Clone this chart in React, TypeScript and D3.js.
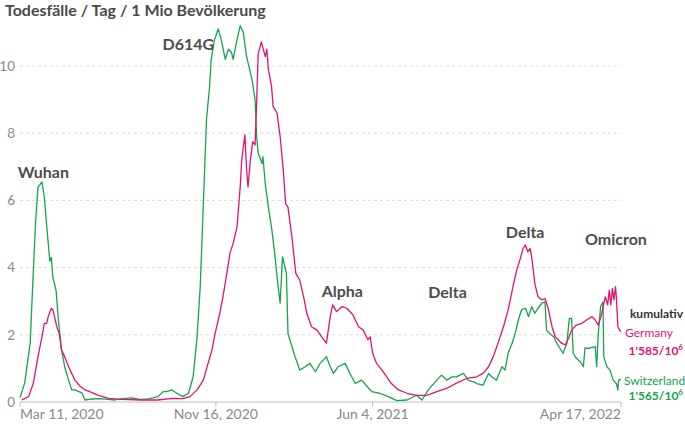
import React from "react";
import * as d3 from "d3";

const TITLE = "Todesfälle / Tag / 1 Mio Bevölkerung";
const START = "2020-03-11";
const END = "2022-04-17";
const xTickDates = ["2020-03-11", "2020-11-16", "2021-06-04", "2022-04-17"];
const yTicks = [0, 2, 4, 6, 8, 10];

// days since START
const chDays = [0, 6, 13, 17, 20, 23, 25, 28, 31, 35, 38, 40, 42, 46, 49, 53, 57, 62, 66, 70, 79, 83, 92, 102, 112, 121, 131, 143, 153, 163, 170, 176, 183, 187, 194, 200, 208, 215, 221, 226, 230, 234, 238, 242, 244, 248, 253, 257, 262, 266, 270, 272, 276, 281, 285, 289, 294, 296, 300, 302, 304, 309, 310, 313, 317, 321, 325, 329, 332, 335, 338, 340, 342, 347, 351, 357, 364, 370, 377, 383, 391, 396, 400, 406, 415, 421, 428, 436, 443, 449, 459, 470, 481, 494, 506, 513, 521, 532, 538, 545, 551, 557, 566, 572, 579, 583, 591, 598, 602, 608, 615, 619, 623, 628, 632, 636, 640, 645, 649, 653, 657, 661, 666, 670, 672, 676, 681, 685, 689, 693, 698, 701, 704, 706, 710, 715, 719, 721, 727, 734, 736, 738, 741, 744, 745, 749, 753, 757, 761, 763, 764, 767];
const chValues = [0.13, 0.57, 1.75, 3.9, 5.4, 6.4, 6.45, 6.55, 6.1, 5.0, 4.2, 4.3, 3.7, 3.33, 2.44, 1.55, 1.05, 0.65, 0.36, 0.36, 0.27, 0.06, 0.09, 0.1, 0.08, 0.06, 0.1, 0.12, 0.08, 0.09, 0.12, 0.16, 0.31, 0.31, 0.36, 0.26, 0.16, 0.26, 0.75, 1.94, 3.43, 5.9, 8.4, 9.4, 10.2, 10.77, 11.1, 10.77, 10.2, 10.5, 10.4, 10.2, 10.67, 11.2, 11.0, 10.3, 9.8, 9.6, 9.0, 7.9, 7.4, 7.1, 7.3, 6.5, 5.8, 5.2, 4.43, 3.53, 2.94, 4.32, 4.03, 3.83, 2.04, 1.65, 1.35, 0.95, 1.05, 1.15, 0.9, 1.15, 1.35, 1.05, 0.85, 1.05, 1.15, 0.85, 0.55, 0.65, 0.46, 0.31, 0.26, 0.16, 0.04, 0.06, 0.2, 0.06, 0.36, 0.65, 0.8, 0.65, 0.75, 0.75, 0.85, 0.65, 0.6, 0.55, 0.5, 0.85, 0.75, 0.65, 1.05, 0.95, 1.45, 1.75, 2.04, 2.44, 2.74, 2.79, 2.54, 2.84, 2.64, 2.79, 2.94, 2.98, 2.14, 2.04, 1.94, 1.75, 1.6, 1.45, 1.75, 2.49, 2.49, 1.45, 1.3, 1.2, 1.05, 1.6, 1.6, 1.65, 1.05, 2.04, 2.84, 2.98, 1.35, 1.05, 0.95, 0.65, 0.55, 0.36, 0.65, 0.67];

const deDays = [2, 11, 17, 23, 28, 31, 34, 36, 40, 42, 45, 47, 50, 53, 57, 62, 66, 70, 77, 83, 89, 100, 113, 130, 155, 176, 194, 208, 217, 226, 234, 240, 245, 249, 255, 259, 264, 268, 272, 277, 281, 283, 285, 287, 289, 291, 294, 297, 300, 302, 304, 308, 313, 315, 317, 321, 323, 328, 332, 336, 339, 342, 347, 352, 357, 362, 366, 372, 379, 385, 391, 396, 399, 404, 411, 417, 425, 432, 438, 444, 447, 450, 455, 462, 468, 474, 483, 494, 506, 519, 532, 545, 557, 570, 583, 591, 598, 604, 610, 617, 623, 630, 634, 638, 642, 645, 648, 651, 653, 657, 661, 666, 670, 674, 679, 683, 687, 691, 696, 700, 704, 710, 717, 723, 730, 734, 738, 742, 747, 750, 752, 754, 756, 758, 760, 761, 763, 765, 767];
const deValues = [0.06, 0.16, 0.56, 1.35, 1.94, 2.34, 2.34, 2.54, 2.79, 2.74, 2.44, 2.24, 2.04, 1.55, 1.35, 1.05, 0.85, 0.65, 0.46, 0.36, 0.31, 0.2, 0.11, 0.08, 0.06, 0.06, 0.11, 0.1, 0.16, 0.36, 0.65, 1.15, 1.55, 2.04, 2.64, 3.13, 3.83, 4.43, 4.72, 5.22, 6.4, 7.2, 7.6, 7.95, 7.0, 6.4, 7.2, 7.75, 7.65, 8.9, 10.37, 10.72, 10.28, 10.5, 9.9, 9.4, 8.8, 8.6, 7.9, 6.9, 5.9, 5.8, 4.92, 3.83, 3.63, 3.13, 2.64, 2.24, 2.14, 1.94, 1.75, 2.54, 2.89, 2.69, 2.84, 2.79, 2.59, 2.24, 2.14, 1.85, 1.94, 1.45, 1.15, 0.95, 0.75, 0.55, 0.36, 0.26, 0.2, 0.2, 0.31, 0.41, 0.56, 0.7, 0.75, 0.85, 1.05, 1.35, 1.75, 2.24, 2.74, 3.53, 3.93, 4.23, 4.57, 4.67, 4.47, 4.57, 4.32, 3.53, 3.13, 3.04, 3.08, 2.79, 2.24, 1.94, 1.85, 1.75, 1.7, 1.9, 2.14, 2.29, 2.34, 2.44, 2.54, 2.44, 2.29, 2.59, 3.13, 2.89, 3.33, 2.89, 3.38, 3.04, 3.43, 3.13, 2.24, 2.14, 2.1];

const waveLabels = ["Wuhan", "D614G", "Alpha", "Delta", "Delta", "Omicron"];
const waveDates = ["2020-03-08", "2020-09-09", "2021-03-31", "2021-08-14", "2021-11-21", "2022-03-02"];
const waveValues = [6.67, 10.48, 3.13, 3.1, 4.88, 4.67];

const countries = ["Germany", "Switzerland"];
const cumulative = ["1'585", "1'565"];

const PINK = "#e5136f";
const GREEN = "#15a54a";
const FONT = "Lato, 'Open Sans', sans-serif";

const parse = d3.utcParse("%Y-%m-%d");

export default function App() {
  const W = 685, H = 424;
  const start = parse(START)!;
  const x = d3.scaleUtc().domain([start, parse(END)!]).range([20, 621]);
  const y = d3.scaleLinear().domain([0, 10]).range([402, 66]);
  const toDate = (d: number) => d3.utcDay.offset(start, d);

  const line = d3
    .line<[number, number]>()
    .x((d) => x(toDate(d[0])))
    .y((d) => y(d[1]));

  const ch: [number, number][] = chDays.map((d, i) => [d, chValues[i]]);
  const de: [number, number][] = deDays.map((d, i) => [d, deValues[i]]);
  const fmt = d3.utcFormat("%b %-d, %Y");

  return (
    <svg width={W} height={H} style={{ position: "absolute", left: 0, top: 0, background: "#fff" }} fontFamily={FONT}>
      <text x={5} y={16} fontSize={16} fontWeight={700} fill="#4a4a4a">{TITLE}</text>
      {yTicks.filter((t) => t > 0).map((t) => (
        <line key={t} x1={20} x2={621} y1={y(t)} y2={y(t)} stroke="#dcdcdc" strokeDasharray="3,3" strokeWidth={1} />
      ))}
      {yTicks.map((t) => (
        <text key={t} x={15} y={y(t)} dy="0.35em" textAnchor="end" fontSize={13.5} fill="#8a8a8a">{t}</text>
      ))}
      <line x1={20} x2={621} y1={y(0)} y2={y(0)} stroke="#bdbdbd" strokeWidth={1} />
      {xTickDates.map((s, i) => {
        const d = parse(s)!;
        const px = x(d);
        const anchor = i === 0 ? "start" : i === xTickDates.length - 1 ? "end" : "middle";
        return (
          <g key={s}>
            <line x1={px} x2={px} y1={402} y2={407} stroke="#bdbdbd" />
            <text x={px} y={419} textAnchor={anchor} fontSize={14} fill="#8a8a8a">{fmt(d)}</text>
          </g>
        );
      })}
      <path d={line(ch) || ""} fill="none" stroke={GREEN} strokeWidth={1.3} strokeLinejoin="round" />
      <path d={line(de) || ""} fill="none" stroke={PINK} strokeWidth={1.3} strokeLinejoin="round" />
      {waveLabels.map((l, i) => (
        <text key={i} x={x(parse(waveDates[i])!)} y={y(waveValues[i])} fontSize={16} fontWeight={700} fill="#4d4d4d">{l}</text>
      ))}
      <text x={683} y={318} textAnchor="end" fontSize={12} fontWeight={700} fill="#333">kumulativ</text>
      <text x={625} y={337} fontSize={12} fill={PINK}>{countries[0]}</text>
      <text x={683} y={355} textAnchor="end" fontSize={12} fontWeight={700} fill={PINK}>
        {cumulative[0]}/10<tspan fontSize={8} dy={-5}>6</tspan>
      </text>
      <text x={624} y={385} fontSize={12} fill={GREEN}>{countries[1]}</text>
      <text x={683} y={400} textAnchor="end" fontSize={12} fontWeight={700} fill={GREEN}>
        {cumulative[1]}/10<tspan fontSize={8} dy={-5}>6</tspan>
      </text>
    </svg>
  );
}
